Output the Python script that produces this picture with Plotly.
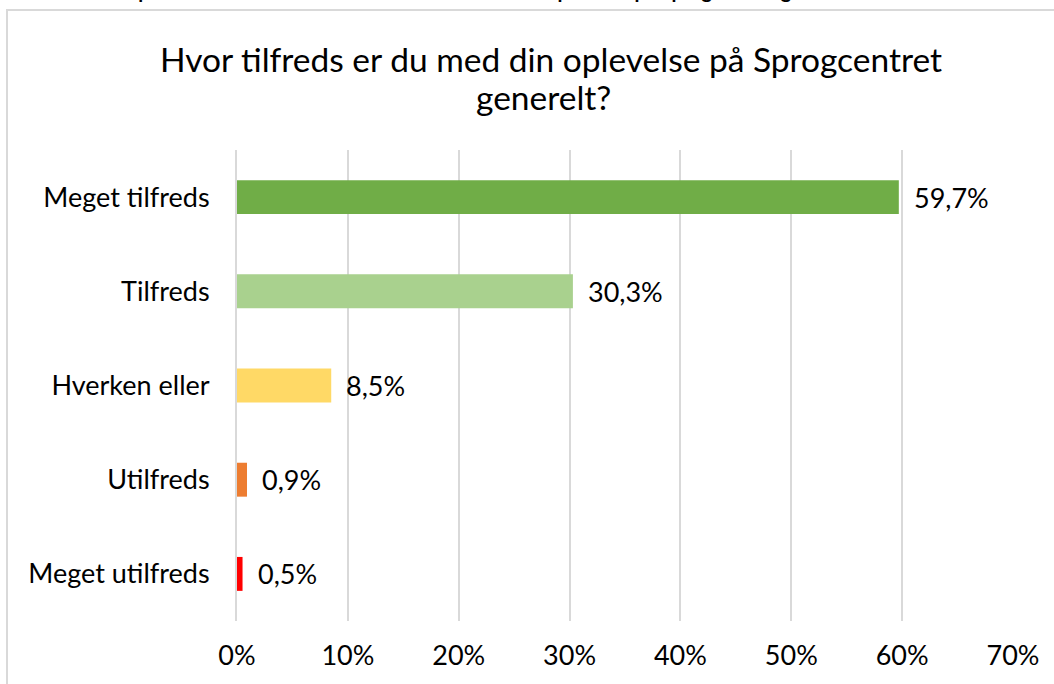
import plotly.graph_objects as go

categories = ["Meget tilfreds", "Tilfreds", "Hverken eller", "Utilfreds", "Meget utilfreds"]
values = [59.7, 30.3, 8.5, 0.9, 0.5]
colors = ["#70AD47", "#A9D18E", "#FFD966", "#ED7D31", "#FF0000"]
tick_vals = [0, 10, 20, 30, 40, 50, 60, 70]
tick_text = [f"{v}%" for v in tick_vals]
labels = [f"{v:.1f}%".replace(".", ",") for v in values]
title_lines = ["Hvor tilfreds er du med din oplevelse på Sprogcentret", "generelt?"]
caption_text = "Figur 4: Andel af respondenter fordelt efter tilfredshed med deres oplevelse på Sprogcentret generelt"

FONT = "Lato, Carlito, Calibri, sans-serif"

W, H = 1054, 684
L, R, T, B = 237, 41, 150, 63
pw, ph = W - L - R, H - T - B

def px(x):
    return (x - L) / pw

def py(y):
    return (H - B - y) / ph

fig = go.Figure(go.Bar(
    x=values, y=categories, orientation="h",
    marker=dict(color=colors, line=dict(width=0)),
    width=0.36,
    hoverinfo="x+y",
))

annotations = []
for v, c, lab in zip(values, categories, labels):
    annotations.append(dict(x=v, y=c, xref="x", yref="y", text=lab, showarrow=False,
                            xanchor="left", yanchor="middle", xshift=13,
                            font=dict(size=27, family=FONT, color="#000000")))
for line, cx, cy in zip(title_lines, [551, 543], [59, 97]):
    annotations.append(dict(text=line, xref="paper", yref="paper", x=px(cx), y=py(cy),
                            xanchor="center", yanchor="middle", showarrow=False,
                            font=dict(size=33.5, family=FONT, color="#000000")))
annotations.append(dict(text=f"<b>{caption_text}</b>", xref="paper", yref="paper",
                        x=px(-40), y=py(4), xanchor="left", yanchor="bottom", showarrow=False,
                        font=dict(size=20, family=FONT, color="#000000")))

fig.update_layout(
    width=W, height=H,
    margin=dict(l=L, r=R, t=T, b=B, autoexpand=False),
    paper_bgcolor="white", plot_bgcolor="white",
    font=dict(family=FONT, color="#000000"),
    showlegend=False,
    xaxis=dict(range=[0, 70], tickvals=tick_vals, ticktext=tick_text,
               showgrid=True, gridcolor="#D9D9D9", gridwidth=2,
               zeroline=False, showline=False, ticks="",
               tickfont=dict(size=27, family=FONT), ticklabelstandoff=16),
    yaxis=dict(autorange="reversed", showgrid=False, zeroline=False,
               showline=True, linecolor="#D9D9D9", linewidth=2, ticks="",
               tickfont=dict(size=27, family=FONT), ticklabelstandoff=20),
    shapes=[dict(type="rect", xref="paper", yref="paper",
                 x0=px(7), x1=px(1200), y0=py(800), y1=py(10),
                 line=dict(color="#D9D9D9", width=2), fillcolor="rgba(0,0,0,0)", layer="below")],
    annotations=annotations,
)

fig.write_html("out.html", config={"displayModeBar": False},
               post_script="document.body.style.margin='0';")
